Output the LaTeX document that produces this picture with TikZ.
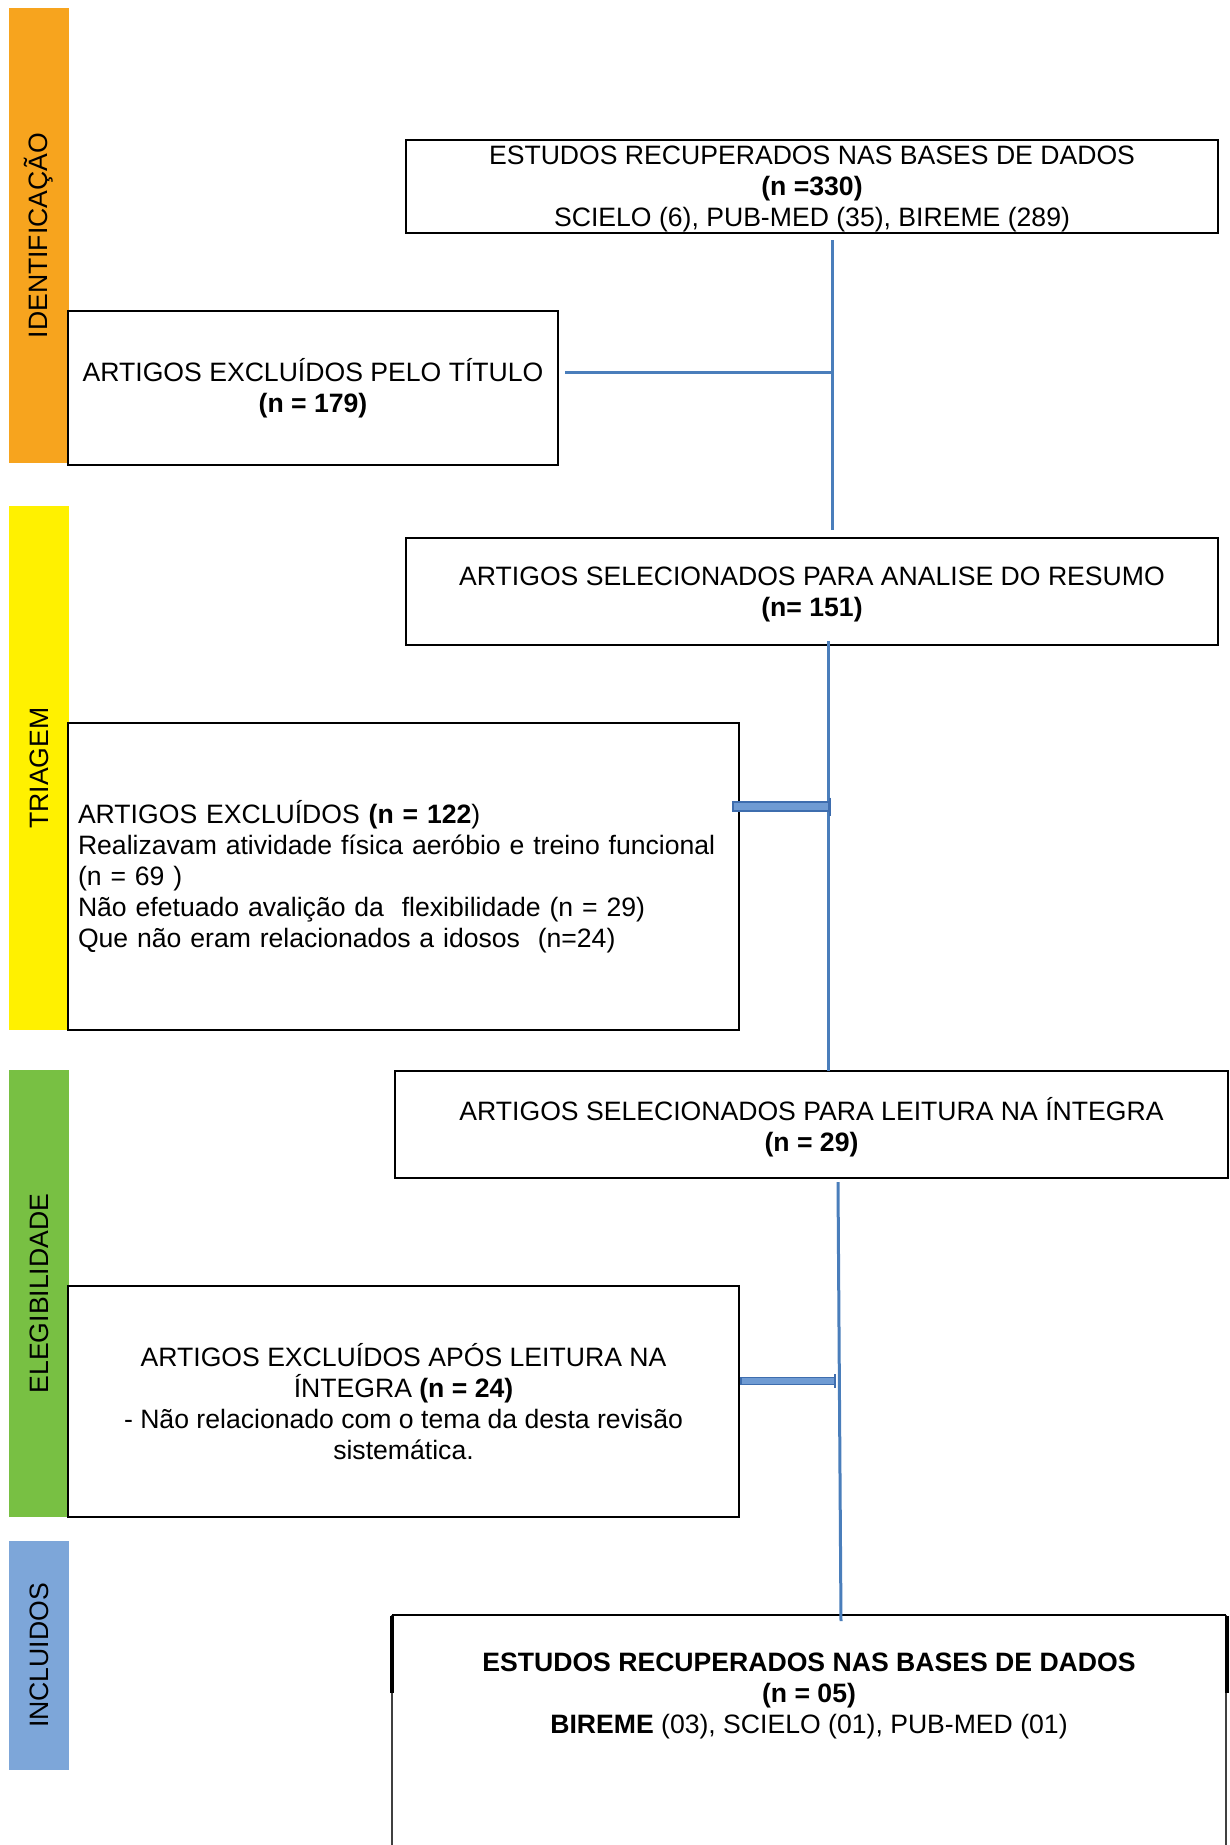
\documentclass[tikz,border=0pt]{standalone}
\usepackage{fontspec}
\setmainfont{Liberation Sans}
\usetikzlibrary{calc}
\definecolor{orangebar}{HTML}{F7A41E}
\definecolor{yellowbar}{HTML}{FFF100}
\definecolor{greenbar}{HTML}{78C043}
\definecolor{bluebar}{HTML}{7DA6D9}
\definecolor{connblue}{HTML}{4A7EBB}
\definecolor{barfill}{HTML}{6F9BD3}
\definecolor{baredge}{HTML}{3E6DAE}
\begin{document}
\begin{tikzpicture}[x=1pt,y=-1pt,
  txt/.style={font=\fontsize{26.6}{31}\selectfont},
  flowbox/.style={draw=black, line width=2.2pt, inner sep=0pt, outer sep=0pt, txt, align=center},
  boxtext/.style={txt, align=center, inner sep=0pt},
  phasebar/.style={rotate=90, inner sep=0pt, outer sep=0pt, minimum height=60, txt},
  conn/.style={draw=connblue, line width=3pt},
  thickbar/.style={draw=baredge, fill=barfill, line width=1.2pt},
  endtick/.style={draw=baredge, line width=2.2pt},
  openedge/.style={draw=black, line width=2.7pt},
  sideedge/.style={draw=black!75, line width=1.6pt},
  sidestub/.style={draw=black, line width=3.4pt}
]
\useasboundingbox (0,0) rectangle (1230,1845);
\fill[white] (0,0) rectangle (1230,1845);

% phase bars
\node[phasebar, fill=orangebar, minimum width=455] (p1) at (39,235.5) {IDENTIFICAÇÃO};
\node[phasebar, fill=yellowbar, minimum width=524] (p2) at (39,768) {TRIAGEM};
\node[phasebar, fill=greenbar, minimum width=447] (p3) at (39,1293.5) {ELEGIBILIDADE};
\node[phasebar, fill=bluebar, minimum width=229] (p4) at (39,1655.5) {INCLUIDOS};

% boxes
\node[flowbox, minimum width=812, minimum height=93] (b1) at (812,186.5) {};
\node[boxtext] (b1t) at ($(b1)+(0,2.5)$)
  {ESTUDOS RECUPERADOS NAS BASES DE DADOS\\ \textbf{(n =330)}\\ SCIELO (6), PUB-MED (35), BIREME (289)};
\node[flowbox, minimum width=490, minimum height=154] (b2) at (313,388) {};
\node[boxtext] (b2t) at ($(b2)+(0,0.5)$)
  {ARTIGOS EXCLUÍDOS PELO TÍTULO\\ \textbf{(n = 179)}};
\node[flowbox, minimum width=812, minimum height=107] (b3) at (812,591.5) {};
\node[boxtext] (b3t) at ($(b3)+(0,2.5)$)
  {ARTIGOS SELECIONADOS PARA ANALISE DO RESUMO\\ \textbf{(n= 151)}};
\node[flowbox, minimum width=671, minimum height=307, text width=651, inner xsep=10pt, align=left] (b4) at (403.5,876.5)
  {ARTIGOS EXCLUÍDOS \textbf{(n = 122})\\
   Realizavam atividade física aeróbio e treino funcional\\
   (n = 69 )\\
   Não efetuado avalição da\ \ flexibilidade (n = 29)\\
   Que não eram relacionados a idosos\ \ (n=24)};
\node[flowbox, minimum width=833, minimum height=107] (b5) at (811.5,1124.5) {};
\node[boxtext] (b5t) at ($(b5)+(0,2.5)$)
  {ARTIGOS SELECIONADOS PARA LEITURA NA ÍNTEGRA\\ \textbf{(n = 29)}};
\node[flowbox, minimum width=671, minimum height=231] (b6) at (403.5,1401.5)
  {ARTIGOS EXCLUÍDOS APÓS LEITURA NA\\ ÍNTEGRA \textbf{(n = 24)}\\ - Não relacionado com o tema da desta revisão\\ sistemática.};
\node[txt, align=center, inner sep=0pt, outer sep=0pt, minimum width=834, minimum height=162, anchor=north] (b7) at (809,1615)
  {\textbf{ESTUDOS RECUPERADOS NAS BASES DE DADOS}\\ \textbf{(n = 05)}\\ \textbf{BIREME} (03), SCIELO (01), PUB-MED (01)};

% open outline of the last box (cut by the page)
\draw[sideedge] (b7.north west) -- (b7.north west |- 0,1845);
\draw[sideedge] (b7.north east) -- (b7.north east |- 0,1845);
\draw[sidestub] ($(b7.north west)+(0,1)$) -- ($(b7.north west)+(0,78)$);
\draw[sidestub] ($(b7.north east)+(1,1)$) -- ($(b7.north east)+(1,78)$);
\draw[openedge] (b7.north west) -- (b7.north east);

% junction coordinates
\coordinate (j1) at (832,372);
\coordinate (j2) at (828,806.5);
\coordinate (j3) at (837,1381);

% connectors
\draw[conn] ($(b1.south -| j1)+(0,7)$) -- ($(b3.north -| j1)+(0,-8)$);
\draw[conn] ($(b2.east |- j1)+(7,0)$) -- (j1);

\draw[conn] ($(b3.south -| j2)+(0,-4)$) -- (b5.north -| j2);
\draw[thickbar] ($(b4.east |- j2)+(-6,-4.5)$) rectangle ($(j2)+(1,4.5)$);
\draw[endtick] ($(j2)+(2,-9)$) -- ($(j2)+(2,9)$);

\draw[conn] ($(b5.south -| j3)+(1,4)$) -- ($(b7.north -| j3)+(4,6)$);
\draw[thickbar] ($(b6.east |- j3)+(2,-3.5)$) rectangle ($(j3)+(-2,3.5)$);
\draw[endtick] ($(j3)+(-2,-7)$) -- ($(j3)+(-2,7)$);
\end{tikzpicture}
\end{document}
